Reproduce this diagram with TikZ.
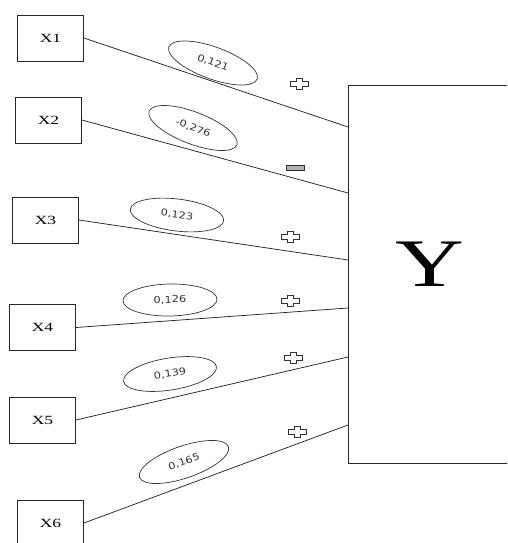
\documentclass[tikz,border=0pt]{standalone}
\usepackage{fontspec}
\usetikzlibrary{shapes.geometric}
\newfontfamily\boxfont[FakeStretch=1.4]{Liberation Serif}
\newfontfamily\coeffont[FakeStretch=1.2]{DejaVu Sans}
\begin{document}
\begin{tikzpicture}[x=1pt,y=-1pt,
  varbox/.style={draw=black!85,line width=0.9pt,minimum width=66pt,minimum height=46pt,inner sep=0pt,font=\boxfont\fontsize{12.5}{12.5}\selectfont},
  coef/.style={ellipse,draw=black!80,line width=0.7pt,minimum width=94pt,minimum height=32pt,inner sep=0pt,font=\coeffont\fontsize{9.5}{9.5}\selectfont,text=black!80},
  link/.style={draw=black!85,line width=0.75pt},
  plussign/.pic={\draw[black!80,line width=0.7pt,fill=white]
      (-9,-2.2)--(-3,-2.2)--(-3,-5.5)--(3,-5.5)--(3,-2.2)--(9,-2.2)--(9,2.2)--(3,2.2)--(3,5.5)--(-3,5.5)--(-3,2.2)--(-9,2.2)--cycle;},
  minussign/.pic={\draw[black!80,line width=0.7pt,fill=black!30] (-9,-2.2) rectangle (9,2.2);}
]
\useasboundingbox (0,0) rectangle (507,543);
\clip (0,0) rectangle (507,543);

% predictor boxes
\node[varbox] (x1) at (50.5,38)  {X1};
\node[varbox] (x2) at (48.5,120) {X2};
\node[varbox] (x3) at (45.5,220) {X3};
\node[varbox] (x4) at (42.5,327.5) {X4};
\node[varbox] (x5) at (42.5,420) {X5};
\node[varbox] (x6) at (50.5,523) {X6};

% outcome box
\node[draw=black!85,line width=1pt,minimum width=164pt,minimum height=378pt,inner sep=0pt] (ybox) at (430,274) {};
\node[font=\boxfont\fontsize{68}{68}\selectfont,inner sep=0pt] (ylab) at (430,264.5) {Y};

% entry points on the outcome box
\coordinate (y1) at (348,127);
\coordinate (y2) at (348,193);
\coordinate (y3) at (348,260);
\coordinate (y4) at (348,308);
\coordinate (y5) at (348,357);
\coordinate (y6) at (348,425);

\draw[link] (x1.east) -- (y1);
\draw[link] (x2.east) -- (y2);
\draw[link] (x3.east) -- (y3);
\draw[link] (x4.east) -- (y4);
\draw[link] (x5.east) -- (y5);
\draw[link] (x6.east) -- (y6);

% path coefficients
\node[coef,rotate=-20] (c1) at (213,63)  {0,121};
\node[coef,rotate=-21] (c2) at (193,128) {-0,276};
\node[coef,rotate=-7]  (c3) at (177,215) {0,123};
\node[coef,rotate=1]   (c4) at (170,300) {0,126};
\node[coef,rotate=9]   (c5) at (170,374) {0,139};
\node[coef,rotate=19]  (c6) at (184,462) {0,165};

% signs
\pic at (299,84)  {plussign};
\pic at (295,168) {minussign};
\pic at (290,237) {plussign};
\pic at (290,301) {plussign};
\pic at (293,358) {plussign};
\pic at (297,432) {plussign};
\end{tikzpicture}
\end{document}
